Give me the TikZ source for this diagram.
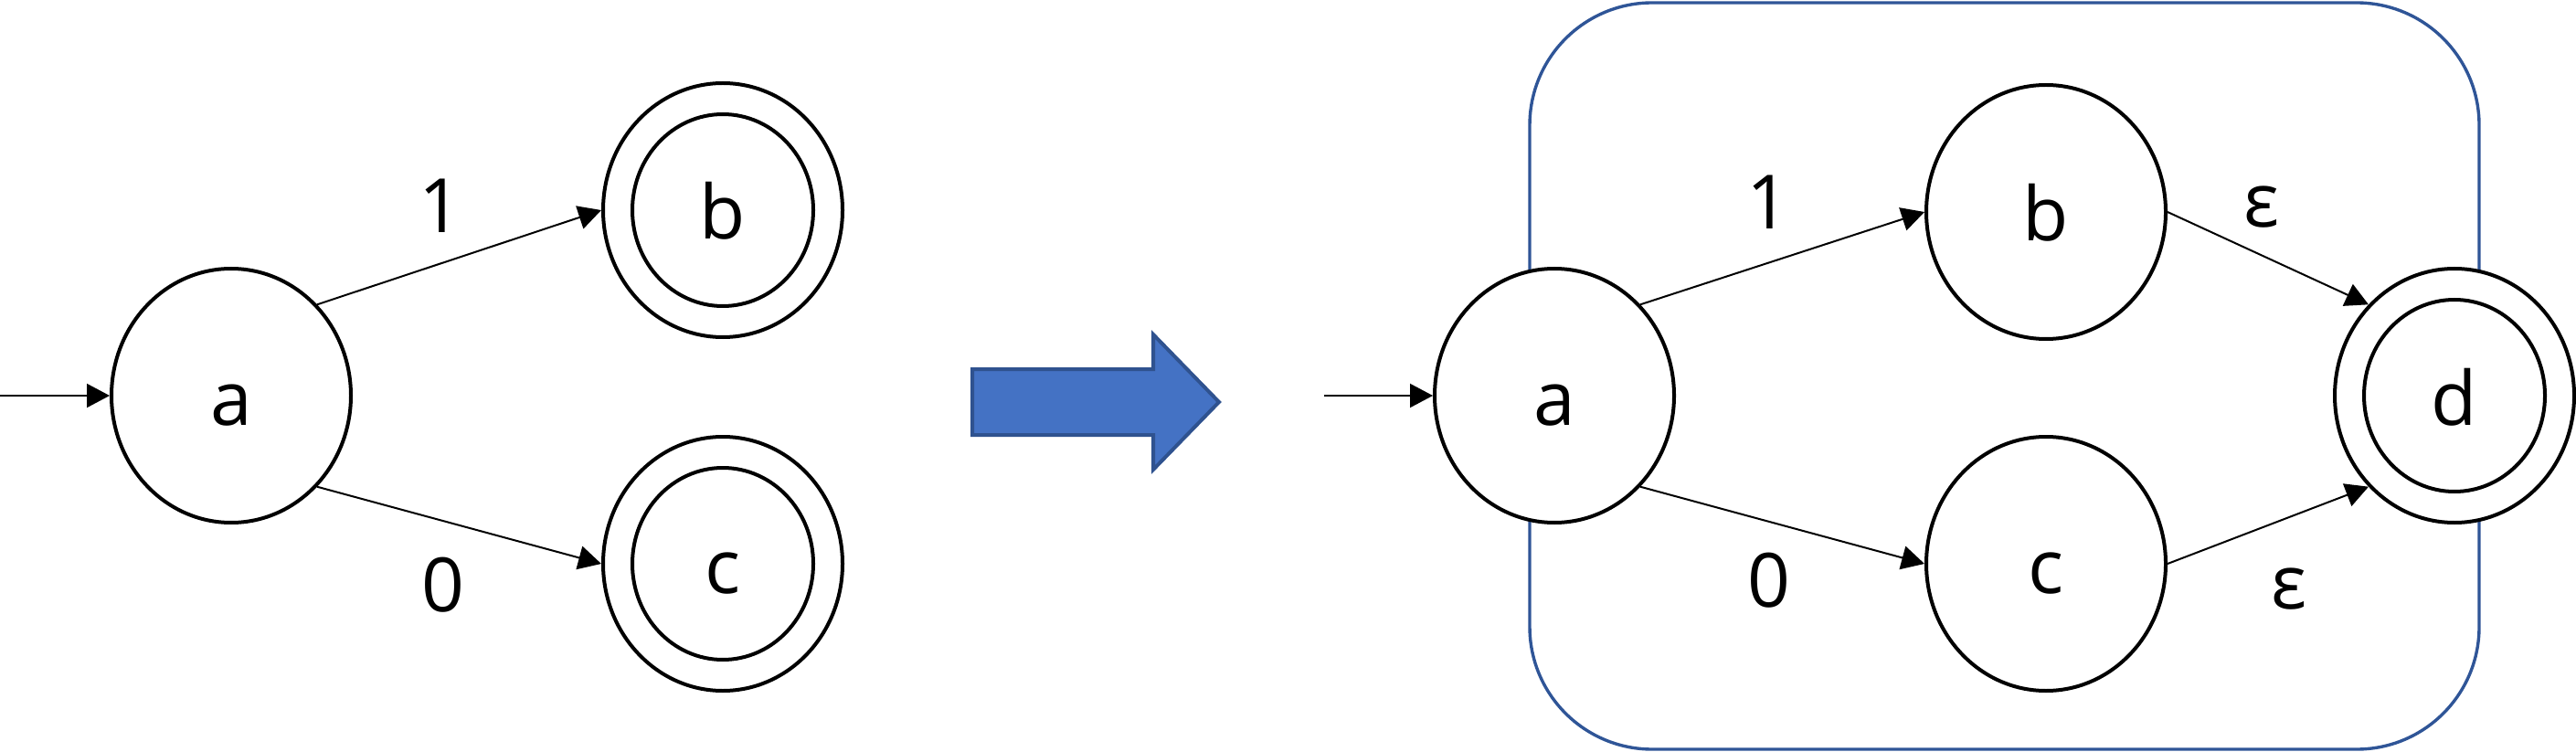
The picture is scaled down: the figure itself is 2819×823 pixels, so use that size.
\documentclass[tikz,border=0pt]{standalone}
\usepackage{fontspec}
\setmainfont{Open Sans}
\usetikzlibrary{shapes.geometric,arrows.meta}
\definecolor{arrowfill}{HTML}{4472C4}
\definecolor{arrowline}{HTML}{2F528F}
\definecolor{boxline}{HTML}{2F5597}
\begin{document}
\begin{tikzpicture}[x=0.5pt,y=-0.5pt,
  big/.style={font=\fontsize{41}{49}\selectfont},
  statetext/.style={big,text height=32pt,text depth=0pt},
  state/.style={ellipse,draw,line width=2pt,fill=white,minimum width=131pt,minimum height=139pt,inner sep=0pt,statetext},
  innerst/.style={ellipse,draw,line width=2pt,minimum width=99pt,minimum height=105pt,inner sep=0pt,statetext},
  trans/.style={line width=1pt,-{Triangle[length=12.5pt,width=13pt]}},
  lbl/.style={big,inner sep=0pt}]
\useasboundingbox (0,0) rectangle (2819,823);
% left automaton
\node[state] (a) at (253,433) {a};
\node[state] (b) at (791,230) {};
\node[innerst] (bi) at (791,230) {b};
\node[state] (c) at (791,617) {};
\node[innerst] (ci) at (791,617) {c};
\coordinate (s1) at (0,433);
\draw[trans] (s1) -- (a.west);
\draw[trans] (a.north east) -- (b.west);
\draw[trans] (a.south east) -- (c.west);
\node[lbl] (l1) at (482,225) {1};
\node[lbl] (l0) at (485,640) {0};
% block arrow
\draw[line width=2pt,draw=arrowline,fill=arrowfill,line join=miter]
  (1064,404) -- (1262,404) -- (1262,366) -- (1334,440) -- (1262,514) -- (1262,476) -- (1064,476) -- cycle;
% right automaton
\draw[line width=1.7pt,draw=boxline,rounded corners=67pt] (1674,3) rectangle (2713,820);
\node[state] (a2) at (1701,433) {a};
\node[state] (b2) at (2239,232) {b};
\node[state] (c2) at (2239,617) {c};
\node[state] (d) at (2686,433) {};
\node[innerst] (di) at (2686,433) {d};
\coordinate (s2) at (1449,433);
\draw[trans] (s2) -- (a2.west);
\draw[trans] (a2.north east) -- (b2.west);
\draw[trans] (a2.south east) -- (c2.west);
\draw[trans] (b2.east) -- (d.north west);
\draw[trans] (c2.east) -- (d.south west);
\node[lbl] (r1) at (1935,221) {1};
\node[lbl] (r0) at (1936,635) {0};
\node[lbl] (e1) at (2475,227) {ε};
\node[lbl] (e2) at (2505,645) {ε};
\end{tikzpicture}
\end{document}
